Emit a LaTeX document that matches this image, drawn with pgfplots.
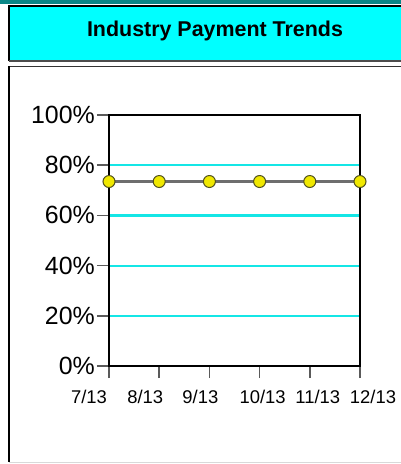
\documentclass[border=0pt]{standalone}
\usepackage{pgfplots}
\pgfplotsset{compat=1.18}
\usepackage{fontspec}
\setmainfont{Liberation Sans}
\definecolor{topteal}{RGB}{10,135,135}
\definecolor{titlecyan}{RGB}{0,255,255}
\definecolor{gridcyan}{RGB}{20,230,230}
\definecolor{linegrey}{RGB}{110,110,110}
\definecolor{markyellow}{RGB}{240,232,0}
\definecolor{markedge}{RGB}{80,80,30}
\definecolor{tickgrey}{RGB}{90,90,90}
% label shifted sideways from its tick, as in the reference
\newcommand{\lab}[2]{\makebox[0pt]{\hspace{#1}#2}}

\begin{document}
\begin{tikzpicture}
% page frame and header
\path[use as bounding box] (0bp,0bp) rectangle (401bp,-464bp);
\fill[white] (0bp,0bp) rectangle (401bp,-464bp);
\fill[topteal] (0bp,0bp) rectangle (401bp,-4bp);
\fill[titlecyan] (8bp,-5bp) rectangle (401bp,-61bp);
\draw[black, line width=1.5bp] (9bp,-61bp) -- (9bp,-6bp) -- (401bp,-6bp);
\draw[black!70, line width=2bp] (9bp,-61bp) -- (401bp,-61bp);
\node[font=\bfseries\fontsize{21.5}{24}\selectfont] at (215bp,-31bp) {Industry Payment Trends};
\draw[black!80, line width=1bp] (9bp,-66bp) -- (401bp,-66bp);
\draw[black, line width=2bp] (9bp,-66bp) -- (9bp,-462bp);
\draw[black!15, line width=1bp] (9bp,-462bp) -- (401bp,-462bp);

\begin{axis}[
  at={(109bp,-366bp)}, anchor=south west,
  scale only axis, width=251bp, height=251bp,
  xmin=0, xmax=5, ymin=0, ymax=100,
  xtick={0,1,2,3,4,5},
  xticklabels={\lab{-40bp}{7/13},\lab{-28bp}{8/13},\lab{-18bp}{9/13},
    \lab{6bp}{10/13},\lab{16bp}{11/13},\lab{26bp}{12/13}},
  ytick={0,20,40,60,80,100},
  yticklabel={\pgfmathprintnumber{\tick}\%},
  /pgf/number format/assume math mode=true,
  tick align=outside, tick pos=left,
  major tick length=12bp,
  tick style={tickgrey, line width=1.5bp},
  axis line style={black, line width=1.8bp},
  ymajorgrids,
  grid style={gridcyan, line width=2.2bp},
  yticklabel style={font=\fontsize{25}{25}\selectfont, inner sep=0bp, xshift=-2bp},
  xticklabel style={font=\fontsize{18.5}{18.5}\selectfont, inner sep=0bp, yshift=-12bp},
  clip=false,
]
\addplot[linegrey, line width=3bp, mark=*, mark size=6bp,
  mark options={fill=markyellow, draw=markedge, line width=1bp}]
  coordinates {(0,73.5) (1,73.5) (2,73.5) (3,73.5) (4,73.5) (5,73.5)};
\end{axis}
\end{tikzpicture}
\end{document}
